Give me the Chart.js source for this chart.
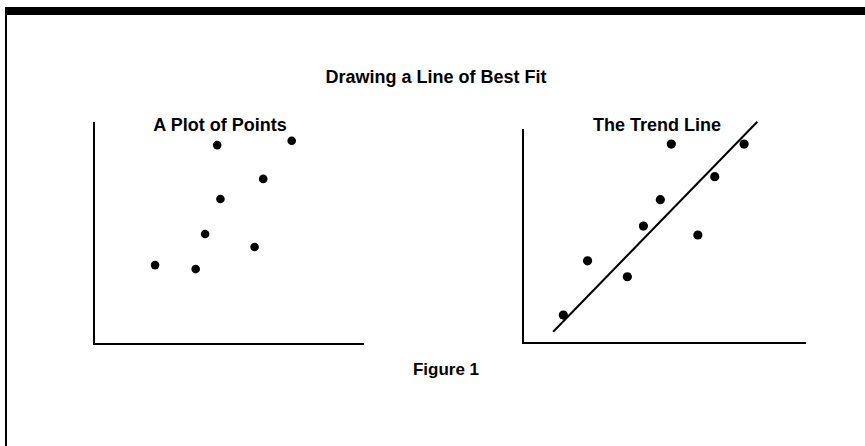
<!DOCTYPE html>
<html>
<head>
<meta charset="utf-8">
<script src="https://cdn.jsdelivr.net/npm/chart.js@4/dist/chart.umd.min.js"></script>
<style>
  body { margin: 0; background: #fff; width: 865px; height: 446px; overflow: hidden; position: relative; font-family: "Liberation Sans", Arial, sans-serif; font-weight: bold; color: #000; }
  .topbar { position: absolute; left: 5px; right: 0; top: 7px; height: 8px; background: #000; }
  .leftbar { position: absolute; left: 5px; top: 7px; bottom: 0; width: 2px; background: #000; }
  .txt { position: absolute; width: 400px; text-align: center; white-space: nowrap; }
  canvas { position: absolute; }
</style>
</head>
<body>
<div class="topbar"></div>
<div class="leftbar"></div>
<div class="txt" style="left:236px; top:68px; font-size:18px; line-height:18px;">Drawing a Line of Best Fit</div>
<div class="txt" style="left:20px; top:116px; font-size:18px; line-height:18px;">A Plot of Points</div>
<div class="txt" style="left:457px; top:116px; font-size:18px; line-height:18px;">The Trend Line</div>
<div class="txt" style="left:246px; top:361px; font-size:17px; line-height:17px;">Figure 1</div>

<canvas id="plotPoints" width="309" height="261" style="left:74px; top:103px;"></canvas>
<canvas id="trendLine" width="322" height="263" style="left:503px; top:100px;"></canvas>

<script>
// left panel: scattered points
const plotX = [2.27, 3.78, 4.13, 4.58, 4.70, 5.97, 6.29, 7.35];
const plotY = [3.57, 3.39, 4.98, 9.00, 6.56, 4.39, 7.47, 9.20];

// right panel: points and the fitted line
const trendPointX = [1.43, 2.29, 3.70, 4.27, 4.87, 5.26, 6.20, 6.80, 7.84];
const trendPointY = [1.31, 3.86, 3.11, 5.49, 6.73, 9.34, 5.07, 7.81, 9.34];
const fitLineX = [1.07, 8.31];
const fitLineY = [0.53, 10.39];

function toXY(xs, ys) {
    return xs.map((x, i) => ({x: x, y: ys[i]}));
}

function axis() {
    return {
        type: 'linear',
        min: 0,
        max: 10,
        ticks: { display: false },
        grid: { display: false, drawTicks: false, tickLength: 0 },
        border: { display: true, color: '#000', width: 2 }
    };
}

function baseOptions(padding) {
    return {
        responsive: false,
        animation: false,
        layout: { padding: padding },
        plugins: { legend: { display: false }, tooltip: { enabled: false }, title: { display: false } },
        scales: { x: axis(), y: axis() }
    };
}

new Chart(document.getElementById('plotPoints'), {
    type: 'scatter',
    data: {
        datasets: [{
            data: toXY(plotX, plotY),
            pointRadius: 4.3,
            pointBackgroundColor: '#000',
            pointBorderWidth: 0,
            clip: false
        }]
    },
    options: baseOptions({ left: 20, right: 20, top: 20, bottom: 20 })
});

new Chart(document.getElementById('trendLine'), {
    type: 'scatter',
    data: {
        datasets: [{
            data: toXY(trendPointX, trendPointY),
            pointRadius: 4.6,
            pointBackgroundColor: '#000',
            pointBorderWidth: 0,
            clip: false
        }, {
            data: toXY(fitLineX, fitLineY),
            showLine: true,
            borderColor: '#000',
            borderWidth: 2,
            pointRadius: 0,
            clip: false
        }]
    },
    options: baseOptions({ left: 20, right: 20, top: 30, bottom: 20 })
});
</script>
</body>
</html>
